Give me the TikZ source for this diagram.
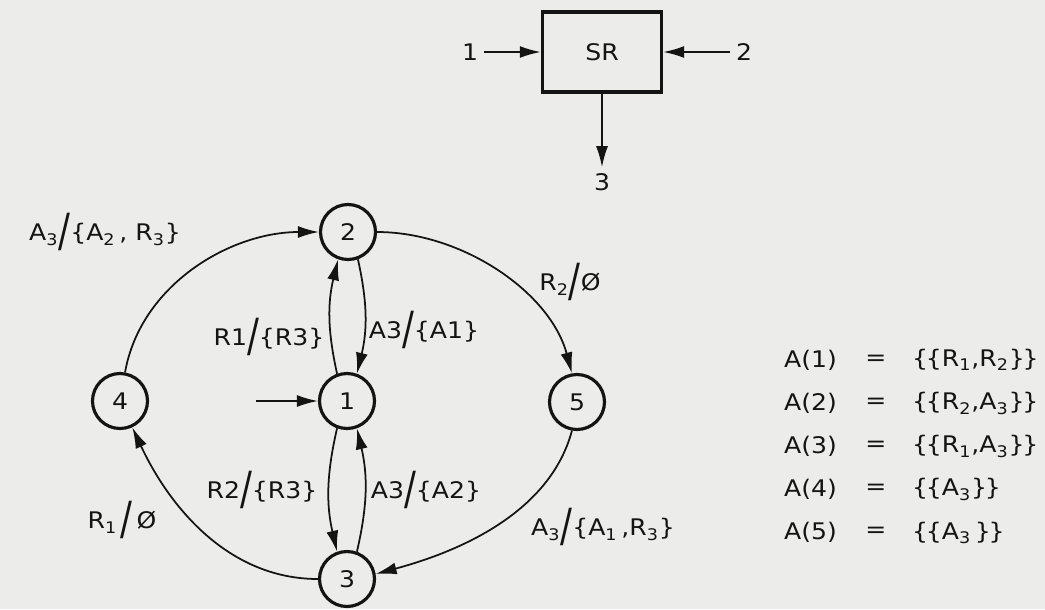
\documentclass[tikz,border=0pt]{standalone}
\usepackage{fontspec}
\setmainfont{DejaVu Sans}[FakeStretch=1.1]
\usepackage{graphicx}
\usetikzlibrary{arrows.meta}
\definecolor{paper}{RGB}{236,236,234}
\definecolor{ink}{RGB}{20,20,20}
\newcommand{\lo}[1]{\textsubscript{#1}}
\newcommand{\slsh}{\raisebox{-0.25em}{\scalebox{1.4}[2]{/}}}
\newcommand{\lbr}{\{\kern-0.1em\{}
\newcommand{\rbr}{\}\kern-0.1em\}}

\begin{document}
\begin{tikzpicture}[x=0.02cm, y=0.02cm, font=\fontsize{13}{16}\selectfont, color=ink,
  stnode/.style={draw, circle, line width=1.8pt, minimum size=1.1cm, inner sep=0pt},
  arr/.style={-{Latex[length=4.2mm,width=2.4mm]}, line width=1pt}]
\useasboundingbox (0,0) rectangle (1045,-609);
\fill[paper] (0,0) rectangle (1045,-609);

% block
\node[draw, line width=2pt, minimum width=2.38cm, minimum height=1.6cm] (sr) at (602,-52) {SR};
\node (in1) at (470,-52) {1};
\node (in2) at (744,-52) {2};
\node (out3) at (602,-182) {3};
\draw[arr] (in1) -- (sr.west |- in1);
\draw[arr] (in2) -- (sr.east |- in2);
\draw[arr] (sr) -- (out3);

% states
\node[stnode] (n2) at (348,-232) {2};
\node[stnode] (n1) at (347,-401) {1};
\node[stnode] (n3) at (347,-579) {3};
\node[stnode] (n4) at (120,-401) {4};
\node[stnode] (n5) at (577,-402) {5};
\coordinate (init) at (256,-401);

\draw[arr] (init) -- (n1);
\draw[arr] (n4.80) to[out=80,in=180,looseness=0.95] (n2.west);
\draw[arr] (n2.east) to[out=0,in=105,looseness=0.9] (n5.100);
\draw[arr] (n5.-100) to[out=-105,in=15,looseness=0.9] (n3.10);
\draw[arr] (n3.west) to[out=180,in=-65,looseness=0.95] (n4.-65);
\draw[arr] (n1.110) to[bend left=13] (n2.250);
\draw[arr] (n2.-70) to[bend left=13] (n1.70);
\draw[arr] (n1.-110) to[bend right=13] (n3.110);
\draw[arr] (n3.70) to[bend right=13] (n1.-70);

% transition labels
\node (l42) at (105,-232) {A\lo{3}\slsh\{A\lo{2}\,, R\lo{3}\}};
\node (l12) at (269,-337) {R1\slsh\{R3\}};
\node (l21) at (424,-330) {A3\slsh\{A1\}};
\node (l25) at (570,-282) {R\lo{2}\slsh Ø};
\node (l13) at (262,-490) {R2\slsh\{R3\}};
\node (l31) at (426,-490) {A3\slsh\{A2\}};
\node (l34) at (122,-520) {R\lo{1}\,\slsh\,Ø};
\node (l53) at (603,-527) {A\lo{3}\slsh\{A\lo{1}\,,R\lo{3}\}};

% acceptance sets
\foreach \k/\set in {1/{R\lo{1},R\lo{2}}, 2/{R\lo{2},A\lo{3}}, 3/{R\lo{1},A\lo{3}}, 4/{A\lo{3}}, 5/{A\lo{3}\,}} {
  \node[anchor=west] (lhs\k) at (778,{-360-43.2*(\k-1)}) {A(\k)};
  \node (eq\k) at (876,{-360-43.2*(\k-1)}) {=};
  \node[anchor=west] (rhs\k) at (906,{-360-43.2*(\k-1)}) {\lbr\set\rbr};
}
\end{tikzpicture}
\end{document}
